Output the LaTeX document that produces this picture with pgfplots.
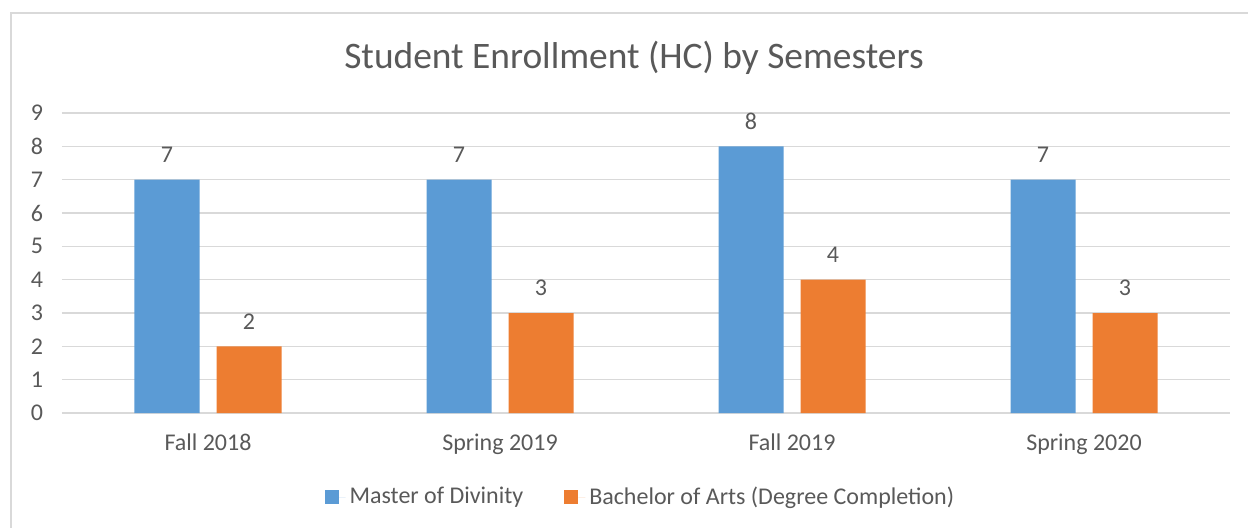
\documentclass[border=0pt]{standalone}
\usepackage{fontspec}
\setmainfont{Carlito}
\usepackage{pgfplots}
\pgfplotsset{compat=1.18}
\definecolor{cblue}{HTML}{5B9BD5}
\definecolor{corange}{HTML}{ED7D31}
\definecolor{cgrid}{HTML}{D9D9D9}
\definecolor{ctext}{HTML}{595959}
\definecolor{cborder}{HTML}{D9D9D9}
\begin{document}
\begin{tikzpicture}
\useasboundingbox (0,0) rectangle (624pt,263.5pt);
\draw[cborder, line width=0.7pt] (5.5pt,-10pt) -- (5.5pt,257pt) -- (640pt,257pt);
\node[text=ctext, font=\fontsize{18.7}{22}\selectfont] at (317pt,234.5pt) {Student Enrollment (HC) by Semesters};
\begin{axis}[
  at={(31pt,57pt)}, anchor=south west,
  scale only axis, width=584pt, height=150pt,
  xmin=-0.5, xmax=3.5, ymin=0, ymax=9,
  ybar=8.5pt, bar width=32.5pt,
  xtick={0,1,2,3},
  xticklabels={Fall 2018, Spring 2019, Fall 2019, Spring 2020},
  ytick={0,1,...,9},
  major tick length=0pt,
  axis line style={draw=none},
  ymajorgrids, grid style={cgrid, line width=0.8pt},
  tick label style={text=ctext, font=\fontsize{12}{14}\selectfont},
  /pgf/number format/assume math mode=true,
  yticklabel style={xshift=-6pt},
  xticklabel style={yshift=-7pt},
  nodes near coords,
  every node near coord/.append style={text=ctext, font=\fontsize{12}{14}\selectfont, yshift=5pt},
  legend style={at={(0.496,-0.28)}, anchor=center, draw=none, fill=none,
    legend columns=2, font=\fontsize{12}{14}\selectfont, text=ctext,
    /tikz/every even column/.append style={column sep=18.5pt}},
  legend image code/.code={\fill[#1] (0pt,-3.5pt) rectangle (7pt,3.5pt); \path (7pt,0pt) -- (10.5pt,0pt);},
]
\addplot[fill=cblue, draw=none] coordinates {(0,7) (1,7) (2,8) (3,7)};
\addplot[fill=corange, draw=none] coordinates {(0,2) (1,3) (2,4) (3,3)};
\legend{Master of Divinity, Bachelor of Arts (Degree Completion)}
\end{axis}
\end{tikzpicture}
\end{document}
